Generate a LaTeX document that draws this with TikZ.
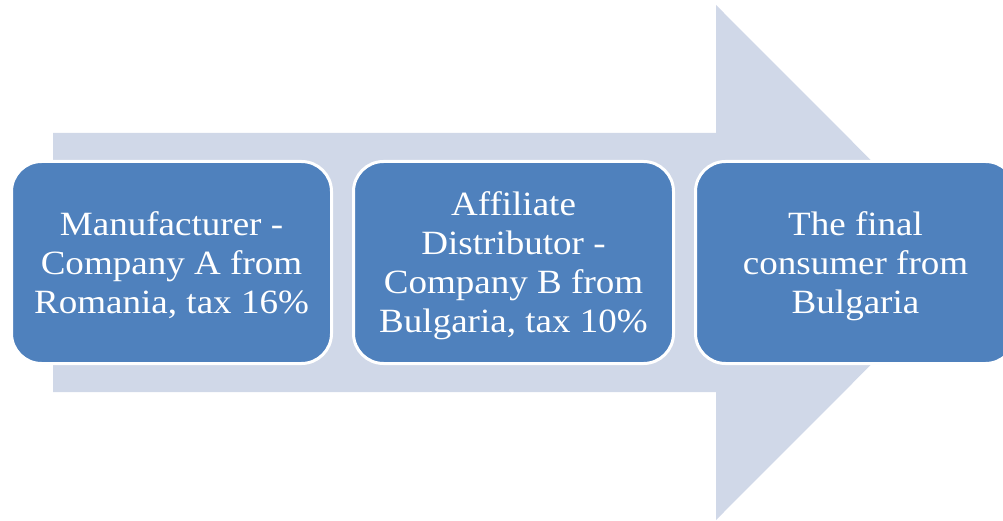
\documentclass[tikz,border=0pt]{standalone}
\usepackage{fontspec}
\setmainfont[FakeStretch=1.09]{Liberation Serif}
\usetikzlibrary{positioning}

\definecolor{stepblue}{HTML}{4F81BD}
\definecolor{arrowgrey}{HTML}{D0D8E8}

\begin{document}
\begin{tikzpicture}[x=1pt, y=-1pt, node distance=19pt]
  \tikzstyle{stepbox}=[draw=white, line width=3pt, fill=stepblue, rounded corners=30pt, align=center,
    text=white, minimum width=320pt, minimum height=202pt, inner sep=0pt, text depth=0pt,
    font=\fontsize{34}{39}\selectfont]

  \useasboundingbox (0,0) rectangle (1003,521);
  \clip (0,0) rectangle (1003,521);

  % big background arrow
  \fill[arrowgrey] (53,133) -- (716,133) -- (716,5) -- (973,262.5) -- (716,520)
    -- (716,392) -- (53,392) -- cycle;

  % steps
  \node[stepbox] (maker) at (171.5,262.5) {Manufacturer -\\Company A from\\Romania, tax 16\%};
  \node[stepbox, right=of maker] (distrib) {Affiliate\\Distributor -\\Company B from\\Bulgaria, tax 10\%};
  \node[stepbox, right=of distrib] (buyer) {The final\\consumer from\\Bulgaria};

\end{tikzpicture}
\end{document}
